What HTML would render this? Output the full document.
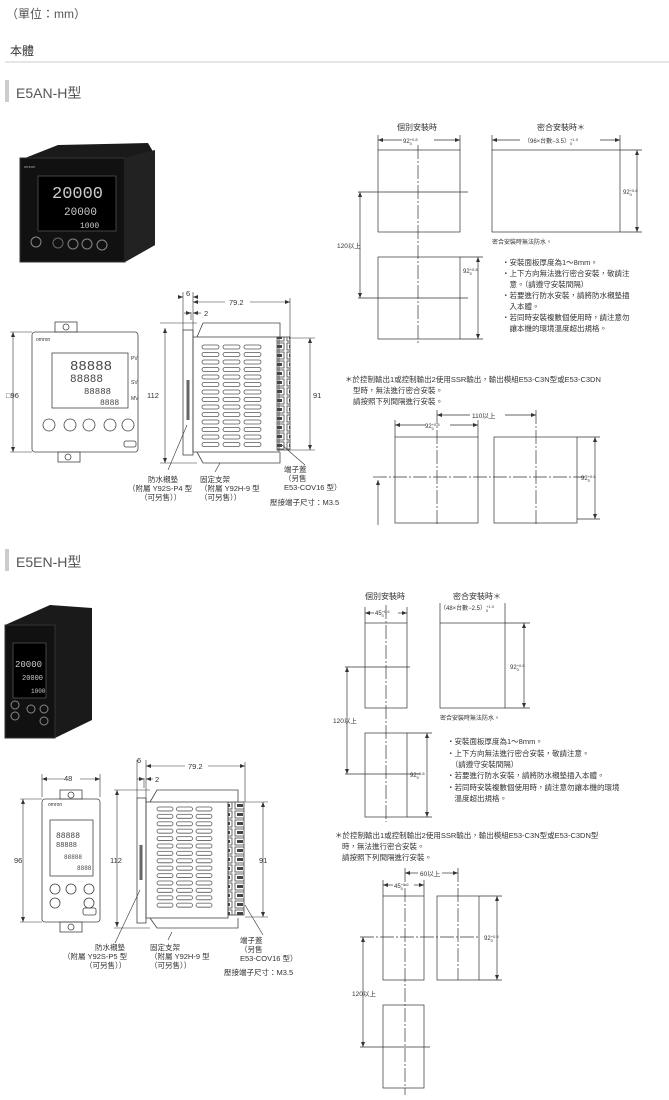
<!DOCTYPE html>
<html><head><meta charset="utf-8"><style>
html,body{margin:0;padding:0;background:#fff;}
svg{display:block;font-family:"Liberation Sans","Noto Sans CJK TC",sans-serif;}
</style></head><body>
<svg width="669" height="1100" viewBox="0 0 669 1100" xmlns="http://www.w3.org/2000/svg">
<defs>
<pattern id="slA" x="201" y="344" width="21" height="7.5" patternUnits="userSpaceOnUse"><rect x="1" y="1" width="17" height="4" rx="2" fill="none" stroke="#555" stroke-width="0.8"/></pattern>
<pattern id="slB" x="156" y="806" width="19.5" height="7.4" patternUnits="userSpaceOnUse"><rect x="1" y="1" width="16" height="4" rx="2" fill="none" stroke="#555" stroke-width="0.8"/></pattern>
<pattern id="term" x="0" y="0" width="13" height="9" patternUnits="userSpaceOnUse"><rect x="1" y="1" width="10" height="7" fill="none" stroke="#444" stroke-width="0.8"/><rect x="3" y="3" width="6" height="3" fill="#444"/></pattern>
<marker id="ar" markerWidth="6" markerHeight="6" refX="5" refY="3" orient="auto-start-reverse" markerUnits="userSpaceOnUse"><path d="M0,1 L5,3 L0,5 z" fill="#333"/></marker>
</defs>
<g fill="#555">
<text x="6" y="18" font-size="12">（單位：mm）</text>
<text x="10" y="55" font-size="12" fill="#333">本體</text>
<text x="16" y="98" font-size="14">E5AN-H型</text>
<text x="16" y="567" font-size="14">E5EN-H型</text>
</g>
<line x1="5" y1="62" x2="669" y2="62" stroke="#ccc"/>
<rect x="5" y="80" width="4" height="22" fill="#ccc"/>
<rect x="5" y="549" width="4" height="22" fill="#ccc"/>

<!-- photo E5AN -->
<polygon points="58,145 148,143 155,155 155,245 125,262 20,262 20,160" fill="#1a1a1a"/>
<rect x="20" y="158" width="105" height="104" fill="#111" stroke="#333"/>
<polygon points="125,158 155,150 155,245 125,262" fill="#222"/>
<rect x="38" y="176" width="78" height="55" fill="#000" stroke="#444"/>
<text x="52" y="198" font-size="17" fill="#ccc" font-family="Liberation Mono">20000</text>
<text x="64" y="215" font-size="11" fill="#ccc" font-family="Liberation Mono">20000</text>
<text x="80" y="228" font-size="8" fill="#ccc" font-family="Liberation Mono">1000</text>
<circle cx="36" cy="242" r="5" fill="none" stroke="#888"/><circle cx="58" cy="243" r="5" fill="none" stroke="#666"/><circle cx="73" cy="244" r="5" fill="none" stroke="#888"/><circle cx="87" cy="244" r="5" fill="none" stroke="#888"/><circle cx="102" cy="245" r="5" fill="none" stroke="#888"/>
<text x="24" y="168" font-size="4" fill="#aaa">omron</text>

<!-- photo E5EN -->
<polygon points="5,625 50,605 92,608 92,720 55,738 5,738" fill="#1a1a1a"/>
<rect x="5" y="625" width="50" height="113" fill="#111" stroke="#333"/>
<rect x="13" y="643" width="33" height="55" fill="#000" stroke="#444"/>
<text x="15" y="667" font-size="9" fill="#ccc" font-family="Liberation Mono">20000</text>
<text x="22" y="680" font-size="7" fill="#ccc" font-family="Liberation Mono">20000</text>
<text x="31" y="693" font-size="6" fill="#ccc" font-family="Liberation Mono">1000</text>
<circle cx="15" cy="705" r="4" fill="none" stroke="#888"/><circle cx="15" cy="716" r="4" fill="none" stroke="#888"/><circle cx="31" cy="709" r="4" fill="none" stroke="#888"/><circle cx="44" cy="709" r="4" fill="none" stroke="#888"/><circle cx="44" cy="721" r="4" fill="none" stroke="#888"/>

<g stroke="#444" stroke-width="0.8" fill="none">
<rect x="32" y="332" width="106" height="120" rx="3"/>
<rect x="55" y="322" width="22" height="10"/><rect x="58" y="452" width="22" height="10"/>
<circle cx="66" cy="327" r="3"/><circle cx="68" cy="457" r="3"/>
<rect x="52" y="353" width="76" height="55"/>
<circle cx="49" cy="425" r="6"/><circle cx="70" cy="425" r="6"/><circle cx="89" cy="425" r="6"/><circle cx="110" cy="425" r="6"/><circle cx="128" cy="425" r="6"/>
<rect x="124" y="441" width="12" height="6" rx="2"/>
<rect x="183" y="330" width="10" height="125"/>
<rect x="193" y="337" width="86" height="115"/>
<polyline points="197,337 203,323 280,323 280,337"/>
<polyline points="197,452 203,463 280,463 280,452"/>
<rect x="201" y="344" width="63" height="105" fill="url(#slA)" stroke="none"/>
<rect x="277" y="337" width="13" height="113" fill="url(#term)"/>
<line x1="188" y1="380" x2="188" y2="420" stroke-width="3" stroke="#666"/>

<rect x="42" y="799" width="58" height="123" rx="3"/>
<rect x="60" y="790" width="22" height="9"/><rect x="60" y="922" width="22" height="10"/>
<circle cx="71" cy="795" r="3"/><circle cx="71" cy="927" r="3"/>
<rect x="50" y="820" width="43" height="56"/>
<circle cx="55" cy="889" r="5"/><circle cx="55" cy="903" r="5"/><circle cx="71" cy="889" r="5"/><circle cx="89" cy="889" r="5"/><circle cx="89" cy="903" r="5"/>
<rect x="83" y="908" width="13" height="7" rx="2"/>
<rect x="137" y="798" width="9" height="125"/>
<rect x="146" y="802" width="82" height="116"/>
<polyline points="150,802 157,790 238,790 238,802"/>
<polyline points="150,918 157,928 238,928 238,918"/>
<rect x="156" y="806" width="59" height="104" fill="url(#slB)" stroke="none"/>
<rect x="228" y="802" width="16" height="113" fill="url(#term)"/>
<line x1="141" y1="845" x2="141" y2="880" stroke-width="3" stroke="#666"/>
</g>
<g font-family="Liberation Mono" fill="#444">
<text x="70" y="370" font-size="14">88888</text>
<text x="70" y="382" font-size="11">88888</text>
<text x="84" y="394" font-size="9">88888</text>
<text x="100" y="405" font-size="8">8888</text>
<text x="56" y="838" font-size="8">88888</text>
<text x="56" y="847" font-size="7">88888</text>
<text x="64" y="859" font-size="6">88888</text>
<text x="77" y="870" font-size="6">8888</text>
</g>
<g font-size="5" fill="#333">
<text x="131" y="360">PV</text><text x="131" y="384">SV</text><text x="131" y="400">MV</text>
<text x="36" y="341">omron</text><text x="48" y="806">omron</text>
</g>

<g stroke="#333" stroke-width="0.6" fill="none">
<line x1="13" y1="332" x2="13" y2="452" marker-start="url(#ar)" marker-end="url(#ar)"/>
<line x1="10" y1="332" x2="32" y2="332"/><line x1="10" y1="452" x2="32" y2="452"/>
<line x1="165" y1="328" x2="165" y2="463" marker-start="url(#ar)" marker-end="url(#ar)"/>
<line x1="160" y1="323" x2="197" y2="323"/><line x1="160" y1="463" x2="197" y2="463"/>
<line x1="310" y1="338" x2="310" y2="450" marker-start="url(#ar)" marker-end="url(#ar)"/>
<line x1="290" y1="338" x2="315" y2="338"/><line x1="290" y1="450" x2="315" y2="450"/>
<line x1="183" y1="292" x2="183" y2="330"/><line x1="193" y1="292" x2="193" y2="337"/><line x1="290" y1="298" x2="290" y2="337"/>
<line x1="193" y1="302" x2="225" y2="302" marker-start="url(#ar)"/><line x1="250" y1="302" x2="290" y2="302" marker-end="url(#ar)"/>
<line x1="178" y1="297" x2="183" y2="297" marker-end="url(#ar)"/><line x1="198" y1="297" x2="193" y2="297" marker-end="url(#ar)"/>
<line x1="191" y1="312" x2="191" y2="320"/><line x1="184" y1="313" x2="191" y2="313" marker-end="url(#ar)"/><line x1="201" y1="313" x2="193" y2="313" marker-end="url(#ar)"/>
<line x1="187" y1="425" x2="168" y2="470"/><line x1="220" y1="463" x2="215" y2="472"/><line x1="282" y1="445" x2="305" y2="465"/>
<line x1="23" y1="799" x2="23" y2="922" marker-start="url(#ar)" marker-end="url(#ar)"/>
<line x1="20" y1="799" x2="42" y2="799"/><line x1="20" y1="922" x2="42" y2="922"/>
<line x1="42" y1="774" x2="42" y2="797"/><line x1="100" y1="774" x2="100" y2="797"/>
<line x1="42" y1="779" x2="64" y2="779" marker-start="url(#ar)"/><line x1="80" y1="779" x2="100" y2="779" marker-end="url(#ar)"/>
<line x1="117" y1="790" x2="117" y2="927" marker-start="url(#ar)" marker-end="url(#ar)"/>
<line x1="114" y1="790" x2="150" y2="790"/><line x1="114" y1="928" x2="150" y2="928"/>
<line x1="263" y1="802" x2="263" y2="917" marker-start="url(#ar)" marker-end="url(#ar)"/>
<line x1="245" y1="802" x2="268" y2="802"/><line x1="245" y1="917" x2="268" y2="917"/>
<line x1="137" y1="760" x2="137" y2="798"/><line x1="146" y1="760" x2="146" y2="802"/><line x1="245" y1="762" x2="245" y2="802"/>
<line x1="146" y1="766" x2="185" y2="766" marker-start="url(#ar)"/><line x1="208" y1="766" x2="245" y2="766" marker-end="url(#ar)"/>
<line x1="144" y1="778" x2="144" y2="788"/><line x1="137" y1="779" x2="144" y2="779" marker-end="url(#ar)"/><line x1="153" y1="779" x2="146" y2="779" marker-end="url(#ar)"/>
<line x1="140" y1="890" x2="115" y2="943"/><line x1="172" y1="932" x2="168" y2="940"/><line x1="245" y1="905" x2="263" y2="935"/>
</g>

<g stroke="#333" stroke-width="0.7" fill="none">
<rect x="378" y="150" width="82" height="82"/><rect x="378" y="257" width="82" height="82"/>
<rect x="492" y="150" width="128" height="82"/>
<line x1="418" y1="145" x2="418" y2="343" stroke-dasharray="14,2,2,2"/>
<line x1="358" y1="192" x2="468" y2="192"/><line x1="358" y1="298" x2="468" y2="298"/>
<line x1="360" y1="192" x2="360" y2="298" marker-start="url(#ar)" marker-end="url(#ar)"/>
<line x1="378" y1="135" x2="378" y2="150"/><line x1="460" y1="135" x2="460" y2="150"/>
<line x1="378" y1="140" x2="402" y2="140" marker-start="url(#ar)"/><line x1="434" y1="140" x2="460" y2="140" marker-end="url(#ar)"/>
<line x1="492" y1="135" x2="492" y2="150"/><line x1="620" y1="135" x2="620" y2="150"/>
<line x1="492" y1="140" x2="520" y2="140" marker-start="url(#ar)"/><line x1="600" y1="140" x2="620" y2="140" marker-end="url(#ar)"/>
<line x1="620" y1="150" x2="642" y2="150"/><line x1="620" y1="232" x2="642" y2="232"/>
<line x1="637" y1="150" x2="637" y2="232" marker-start="url(#ar)" marker-end="url(#ar)"/>
<line x1="460" y1="257" x2="483" y2="257"/><line x1="460" y1="339" x2="483" y2="339"/>
<line x1="478" y1="257" x2="478" y2="339" marker-start="url(#ar)" marker-end="url(#ar)"/>

<rect x="395" y="437" width="83" height="86"/><rect x="494" y="437" width="83" height="86"/>
<line x1="373" y1="477" x2="585" y2="477" stroke-dasharray="14,2,2,2"/>
<line x1="437" y1="410" x2="437" y2="526" stroke-dasharray="14,2,2,2"/>
<line x1="536" y1="410" x2="536" y2="526" stroke-dasharray="14,2,2,2"/>
<line x1="437" y1="415" x2="470" y2="415" marker-start="url(#ar)"/><line x1="505" y1="415" x2="536" y2="415" marker-end="url(#ar)"/>
<line x1="395" y1="420" x2="395" y2="437"/><line x1="478" y1="420" x2="478" y2="437"/>
<line x1="395" y1="425" x2="425" y2="425" marker-start="url(#ar)"/><line x1="450" y1="425" x2="478" y2="425" marker-end="url(#ar)"/>
<line x1="577" y1="437" x2="600" y2="437"/><line x1="577" y1="519" x2="600" y2="519"/>
<line x1="595" y1="437" x2="595" y2="519" marker-start="url(#ar)" marker-end="url(#ar)"/>
<line x1="378" y1="480" x2="378" y2="525" marker-start="url(#ar)"/>

<rect x="365" y="623" width="42" height="85"/><rect x="365" y="733" width="42" height="84"/>
<rect x="440" y="623" width="65" height="85"/>
<line x1="386" y1="605" x2="386" y2="822" stroke-dasharray="14,2,2,2"/>
<line x1="345" y1="667" x2="410" y2="667"/><line x1="345" y1="774" x2="420" y2="774"/>
<line x1="347" y1="667" x2="347" y2="774" marker-start="url(#ar)" marker-end="url(#ar)"/>
<line x1="365" y1="607" x2="365" y2="623"/><line x1="407" y1="607" x2="407" y2="623"/>
<line x1="365" y1="613" x2="374" y2="613" marker-start="url(#ar)"/><line x1="398" y1="613" x2="407" y2="613" marker-end="url(#ar)"/>
<line x1="440" y1="603" x2="440" y2="623"/><line x1="505" y1="603" x2="505" y2="623"/>
<line x1="505" y1="623" x2="530" y2="623"/><line x1="505" y1="708" x2="530" y2="708"/>
<line x1="524" y1="623" x2="524" y2="708" marker-start="url(#ar)" marker-end="url(#ar)"/>
<line x1="407" y1="733" x2="432" y2="733"/><line x1="407" y1="817" x2="432" y2="817"/>
<line x1="427" y1="733" x2="427" y2="817" marker-start="url(#ar)" marker-end="url(#ar)"/>

<rect x="383" y="896" width="41" height="84"/><rect x="437" y="896" width="42" height="84"/>
<rect x="383" y="1005" width="41" height="83"/>
<line x1="360" y1="937" x2="479" y2="937" stroke-dasharray="14,2,2,2"/>
<line x1="405" y1="868" x2="405" y2="1095" stroke-dasharray="14,2,2,2"/>
<line x1="458" y1="868" x2="458" y2="980" stroke-dasharray="14,2,2,2"/>
<line x1="360" y1="1047" x2="430" y2="1047"/>
<line x1="363" y1="937" x2="363" y2="1047" marker-start="url(#ar)" marker-end="url(#ar)"/>
<line x1="405" y1="873" x2="418" y2="873" marker-start="url(#ar)"/><line x1="442" y1="873" x2="458" y2="873" marker-end="url(#ar)"/>
<line x1="383" y1="880" x2="383" y2="896"/><line x1="424" y1="880" x2="424" y2="896"/>
<line x1="383" y1="885" x2="393" y2="885" marker-start="url(#ar)"/><line x1="414" y1="885" x2="424" y2="885" marker-end="url(#ar)"/>
<line x1="479" y1="896" x2="502" y2="896"/><line x1="479" y1="980" x2="502" y2="980"/>
<line x1="497" y1="896" x2="497" y2="980" marker-start="url(#ar)" marker-end="url(#ar)"/>
</g>

<g font-size="7.5" fill="#333">
<text x="6" y="398">□96</text>
<text x="147" y="398">112</text>
<text x="313" y="398">91</text>
<text x="186" y="296">6</text>
<text x="229" y="305">79.2</text>
<text x="204" y="316">2</text>
<text x="148" y="482">防水襯墊</text>
<text x="128" y="491">（附屬 Y92S-P4 型</text>
<text x="140" y="500">（可另售））</text>
<text x="200" y="482">固定支架</text>
<text x="200" y="491">（附屬 Y92H-9 型</text>
<text x="200" y="500">（可另售））</text>
<text x="284" y="472">端子蓋</text>
<text x="284" y="481">（另售</text>
<text x="284" y="490">E53-COV16 型）</text>
<text x="270" y="505">壓接端子尺寸：M3.5</text>

<text x="64" y="781">48</text>
<text x="14" y="863">96</text>
<text x="110" y="863">112</text>
<text x="259" y="863">91</text>
<text x="137" y="763">6</text>
<text x="188" y="769">79.2</text>
<text x="155" y="782">2</text>
<text x="95" y="950">防水襯墊</text>
<text x="63" y="959">（附屬 Y92S-P5 型</text>
<text x="85" y="968">（可另售））</text>
<text x="150" y="950">固定支架</text>
<text x="150" y="959">（附屬 Y92H-9 型</text>
<text x="150" y="968">（可另售））</text>
<text x="240" y="943">端子蓋</text>
<text x="240" y="952">（另售</text>
<text x="240" y="961">E53-COV16 型）</text>
<text x="224" y="975">壓接端子尺寸：M3.5</text>

<text x="397" y="130" font-size="8">個別安裝時</text>
<text x="537" y="130" font-size="8">密合安裝時＊</text>
<text x="403" y="143" font-size="6">92<tspan font-size="4" dy="-2">+0.8</tspan><tspan font-size="4" dx="-8" dy="4">0</tspan></text>
<text x="524" y="143" font-size="6">（96×台數−3.5）<tspan font-size="4" dy="-2">+1.0</tspan><tspan font-size="4" dx="-8" dy="4">0</tspan></text>
<text x="623" y="194" font-size="6">92<tspan font-size="4" dy="-2">+0.8</tspan><tspan font-size="4" dx="-8" dy="4">0</tspan></text>
<text x="463" y="273" font-size="6">92<tspan font-size="4" dy="-2">+0.8</tspan><tspan font-size="4" dx="-8" dy="4">0</tspan></text>
<text x="337" y="248" font-size="6.5">120以上</text>
<text x="492" y="244" font-size="6">密合安裝時無法防水。</text>
<text x="502" y="265">・安裝面板厚度為1～8mm。</text>
<text x="502" y="276">・上下方向無法進行密合安裝，敬請注</text>
<text x="502" y="287">　意。（請遵守安裝間隔）</text>
<text x="502" y="298">・若要進行防水安裝，請將防水襯墊插</text>
<text x="502" y="309">　入本體。</text>
<text x="502" y="320">・若同時安裝複數個使用時，請注意勿</text>
<text x="502" y="331">　讓本機的環境溫度超出規格。</text>
<text x="345" y="382">＊於控制輸出1或控制輸出2使用SSR輸出，輸出模組E53-C3N型或E53-C3DN</text>
<text x="353" y="393">型時，無法進行密合安裝。</text>
<text x="353" y="404">請按照下列間隔進行安裝。</text>
<text x="472" y="418" font-size="6.5">110以上</text>
<text x="425" y="428" font-size="6">92<tspan font-size="4" dy="-2">+0.8</tspan><tspan font-size="4" dx="-8" dy="4">0</tspan></text>
<text x="581" y="480" font-size="6">92<tspan font-size="4" dy="-2">+0.8</tspan><tspan font-size="4" dx="-8" dy="4">0</tspan></text>

<text x="365" y="599" font-size="8">個別安裝時</text>
<text x="453" y="599" font-size="8">密合安裝時＊</text>
<text x="375" y="615" font-size="6">45<tspan font-size="4" dy="-2">+0.6</tspan><tspan font-size="4" dx="-8" dy="4">0</tspan></text>
<text x="440" y="610" font-size="6">（48×台數−2.5）<tspan font-size="4" dy="-2">+1.0</tspan><tspan font-size="4" dx="-8" dy="4">0</tspan></text>
<text x="510" y="669" font-size="6">92<tspan font-size="4" dy="-2">+0.8</tspan><tspan font-size="4" dx="-8" dy="4">0</tspan></text>
<text x="410" y="777" font-size="6">92<tspan font-size="4" dy="-2">+0.8</tspan><tspan font-size="4" dx="-8" dy="4">0</tspan></text>
<text x="333" y="723" font-size="6.5">120以上</text>
<text x="440" y="720" font-size="6">密合安裝時無法防水。</text>
<text x="447" y="744">・安裝面板厚度為1～8mm。</text>
<text x="447" y="756">・上下方向無法進行密合安裝，敬請注意。</text>
<text x="447" y="767">　（請遵守安裝間隔）</text>
<text x="447" y="778">・若要進行防水安裝，請將防水襯墊插入本體。</text>
<text x="447" y="790">・若同時安裝複數個使用時，請注意勿讓本機的環境</text>
<text x="447" y="801">　溫度超出規格。</text>
<text x="335" y="838">＊於控制輸出1或控制輸出2使用SSR輸出，輸出模組E53-C3N型或E53-C3DN型</text>
<text x="342" y="849">時，無法進行密合安裝。</text>
<text x="342" y="860">請按照下列間隔進行安裝。</text>
<text x="420" y="876" font-size="6.5">60以上</text>
<text x="394" y="888" font-size="6">45<tspan font-size="4" dy="-2">+0.6</tspan><tspan font-size="4" dx="-8" dy="4">0</tspan></text>
<text x="484" y="940" font-size="6">92<tspan font-size="4" dy="-2">+0.8</tspan><tspan font-size="4" dx="-8" dy="4">0</tspan></text>
<text x="352" y="996" font-size="6.5">120以上</text>
</g>
</svg>
</body></html>
